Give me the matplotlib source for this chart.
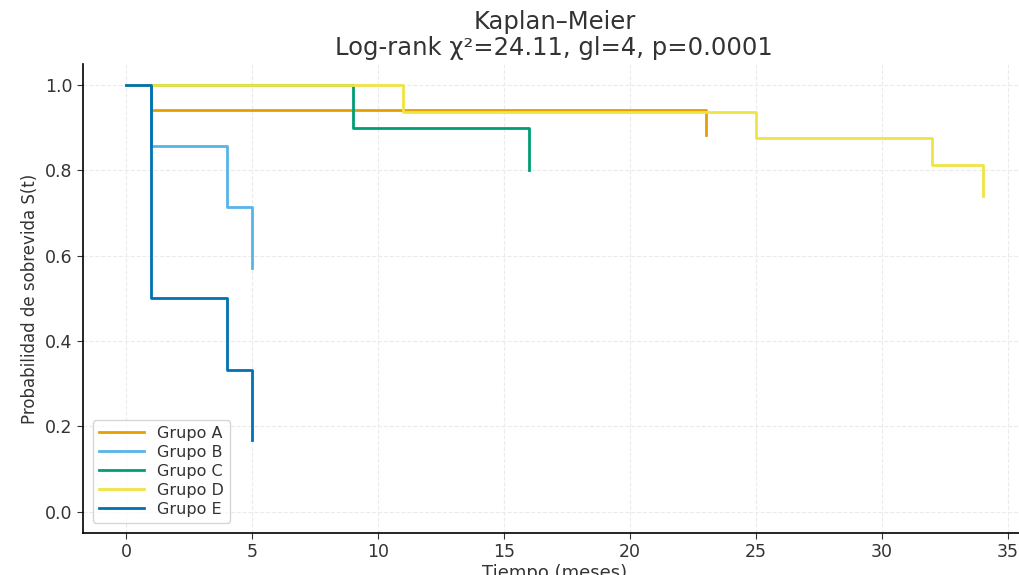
import matplotlib
matplotlib.use("Agg")
import matplotlib.pyplot as plt

# Kaplan-Meier estimates per group (time in months, survival)
groups = ["Grupo A", "Grupo B", "Grupo C", "Grupo D", "Grupo E"]
colors = ["#E69F00", "#56B4E9", "#009E73", "#F0E442", "#0072B2"]

t_a = [0, 1, 23]
s_a = [1.0, 0.941, 0.882]
t_b = [0, 1, 4, 5]
s_b = [1.0, 0.857, 0.714, 0.571]
t_c = [0, 9, 16]
s_c = [1.0, 0.9, 0.8]
t_d = [0, 11, 25, 32, 34]
s_d = [1.0, 0.9375, 0.875, 0.8125, 0.739]
t_e = [0, 1, 4, 5]
s_e = [1.0, 0.5, 0.333, 0.167]

times = [t_a, t_b, t_c, t_d, t_e]
survs = [s_a, s_b, s_c, s_d, s_e]

txt = "#333333"
plt.rcParams["text.color"] = txt
plt.rcParams["axes.labelcolor"] = txt
plt.rcParams["xtick.color"] = txt
plt.rcParams["ytick.color"] = txt

fig = plt.figure(figsize=(10.19, 5.75), dpi=100)
ax = fig.add_axes([0.0815, 0.073, 0.925, 0.816])

for name, col, t, s in zip(groups, colors, times, survs):
    ax.step(t, s, where="post", color=col, lw=2, label=name)

ax.set_xlim(-1.7, 35.7)
ax.set_ylim(-0.05, 1.05)
ax.set_xticks(range(0, 36, 5))
ax.set_yticks([0.0, 0.2, 0.4, 0.6, 0.8, 1.0])
ax.tick_params(labelsize=12.5, direction="out", length=4)
ax.grid(True, linestyle="--", color="#ebebeb", linewidth=0.8)
ax.spines["top"].set_visible(False)
ax.spines["right"].set_visible(False)
ax.spines["left"].set_linewidth(1.2)
ax.spines["bottom"].set_linewidth(1.2)

ax.set_xlabel("Tiempo (meses)", fontsize=13, labelpad=2)
ax.set_ylabel("Probabilidad de sobrevida S(t)", fontsize=12)
ax.set_title("Kaplan\u2013Meier\nLog-rank \u03c7\u00b2=24.11, gl=4, p=0.0001",
             fontsize=17.5, pad=6, linespacing=1.15)

ax.legend(loc="lower left", fontsize=11.5, frameon=True, handlelength=2.8,
          labelspacing=0.25, borderaxespad=0.6)

fig.savefig("out.png", dpi=100)
